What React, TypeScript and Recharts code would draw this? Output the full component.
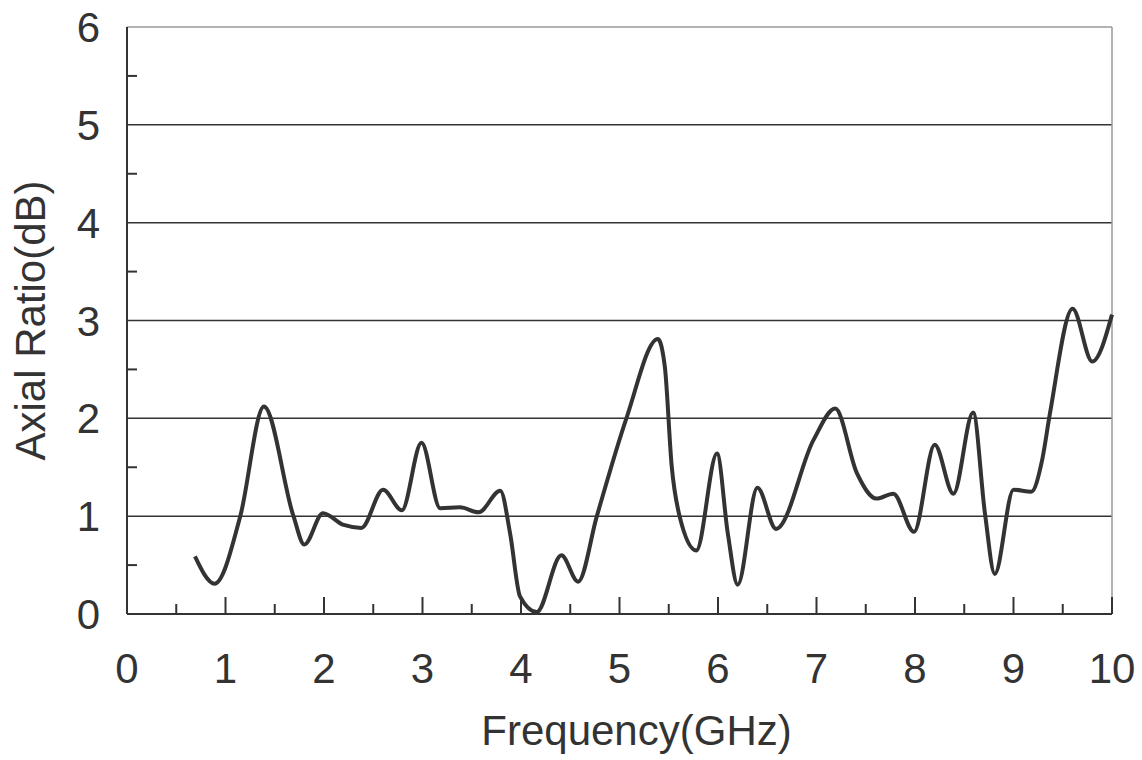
import React from "react";
import { Line, LineChart, ReferenceLine, XAxis, YAxis } from "recharts";

// frequency (GHz) and axial ratio (dB)
const freqGHz = [
  0.69, 0.89, 1.15, 1.39, 1.69, 1.8, 1.99, 2.2, 2.38, 2.6, 2.79, 2.99, 3.18, 3.38, 3.57, 3.79,
  3.89, 3.99, 4.16, 4.41, 4.58, 4.77, 5.07, 5.39, 5.46, 5.53, 5.61, 5.78, 5.99, 6.1, 6.2, 6.4,
  6.59, 6.97, 7.19, 7.41, 7.61, 7.78, 7.99, 8.2, 8.39, 8.59, 8.71, 8.81, 9.0, 9.18, 9.29, 9.37,
  9.6, 9.8, 10.0
];
const axialRatioDb = [
  0.59, 0.31, 1.0, 2.12, 1.0, 0.71, 1.03, 0.91, 0.88, 1.27, 1.06, 1.75, 1.08, 1.09, 1.04, 1.26,
  0.82, 0.18, 0.02, 0.6, 0.33, 1.0, 2.0, 2.81, 2.53, 1.51, 1.0, 0.65, 1.64, 0.82, 0.3, 1.29,
  0.87, 1.78, 2.1, 1.44, 1.18, 1.23, 0.84, 1.73, 1.23, 2.06, 1.03, 0.41, 1.27, 1.25, 1.57, 2.05,
  3.12, 2.58, 3.06
];

const xTicks = [0, 0.5, 1, 1.5, 2, 2.5, 3, 3.5, 4, 4.5, 5, 5.5, 6, 6.5, 7, 7.5, 8, 8.5, 9, 9.5, 10];
const yTicks = [0, 0.5, 1, 1.5, 2, 2.5, 3, 3.5, 4, 4.5, 5, 5.5, 6];
const gridValues = [1, 2, 3, 4, 5];

const INK = "#333";
const FONT = "'Liberation Sans', Arial, sans-serif";
const FONT_SIZE = 42;

const points = freqGHz.map((f, i) => ({ f, ar: axialRatioDb[i] }));

function XTick(props: any) {
  const { x, y, payload } = props;
  const v = Number(payload.value);
  const major = Number.isInteger(v);
  return (
    <g>
      <line x1={x} x2={x} y1={y} y2={y - (major ? 17 : 10)} stroke={INK} strokeWidth={2} />
      {major && (
        <text x={x} y={y + 69} textAnchor="middle" fill={INK} fontSize={FONT_SIZE} fontFamily={FONT}>
          {v}
        </text>
      )}
    </g>
  );
}

function YTick(props: any) {
  const { x, y, payload } = props;
  const v = Number(payload.value);
  const major = Number.isInteger(v);
  return (
    <g>
      {!major && <line x1={x} x2={x + 10} y1={y} y2={y} stroke={INK} strokeWidth={2} />}
      {major && (
        <text x={x - 27} y={y + 15} textAnchor="end" fill={INK} fontSize={FONT_SIZE} fontFamily={FONT}>
          {v}
        </text>
      )}
    </g>
  );
}

export default function App() {
  return (
    <div style={{ position: "absolute", left: 0, top: 0, background: "#fff" }}>
      <LineChart
        width={1142}
        height={760}
        data={points}
        margin={{ top: 27, right: 30, bottom: 0, left: 0 }}
      >
        <XAxis
          dataKey="f"
          type="number"
          domain={[0, 10]}
          ticks={xTicks}
          interval={0}
          height={146}
          tickSize={0}
          tickMargin={0}
          tickLine={false}
          axisLine={{ stroke: INK, strokeWidth: 2 }}
          tick={<XTick />}
          label={{
            value: "Frequency(GHz)",
            position: "insideBottom",
            offset: 15,
            dx: 17,
            fill: INK,
            fontSize: FONT_SIZE,
            fontFamily: FONT
          }}
        />
        <YAxis
          type="number"
          domain={[0, 6]}
          ticks={yTicks}
          interval={0}
          width={127}
          tickSize={0}
          tickMargin={0}
          tickLine={false}
          axisLine={{ stroke: INK, strokeWidth: 2 }}
          tick={<YTick />}
          label={{
            value: "Axial Ratio(dB)",
            angle: -90,
            position: "insideLeft",
            offset: 30,
            fill: INK,
            fontSize: FONT_SIZE,
            fontFamily: FONT,
            style: { textAnchor: "middle" }
          }}
        />
        {gridValues.map((g) => (
          <ReferenceLine key={`grid:${g}`} y={g} stroke={INK} strokeWidth={1.5} />
        ))}
        <ReferenceLine y={6} stroke="#999" strokeWidth={1.5} />
        <ReferenceLine x={10} stroke="#999" strokeWidth={1.5} />
        <Line
          type="monotone"
          dataKey="ar"
          stroke={INK}
          strokeWidth={4}
          dot={false}
          activeDot={false}
          isAnimationActive={false}
        />
      </LineChart>
    </div>
  );
}
